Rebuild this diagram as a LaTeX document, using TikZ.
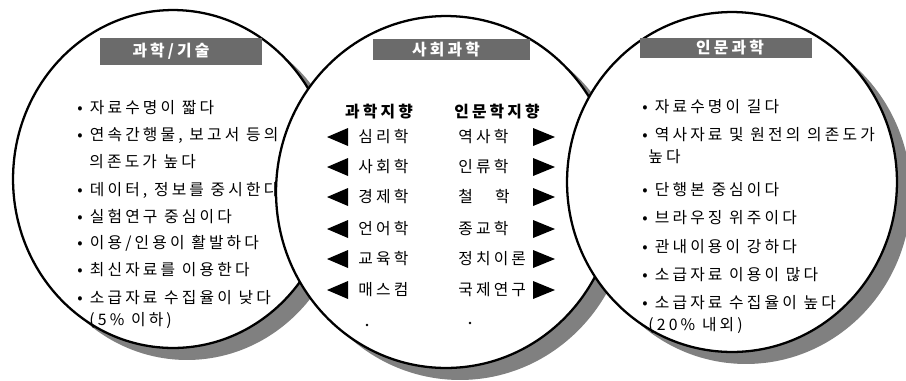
\documentclass[tikz,border=0pt]{standalone}
\usepackage{fontspec}
\setmainfont{Noto Sans CJK KR}[LetterSpace=20]
\tikzset{
    disc/.style={draw=black, fill=white, line width=1.3pt},
    drop/.style={fill=black!50},
    headbox/.style={fill=black!58, inner sep=0pt},
    headtext/.style={text=white, inner sep=0pt, font=\fontsize{9}{11}\selectfont\bfseries},
    item/.style={anchor=west, inner sep=0pt, font=\fontsize{9}{11}\selectfont},
    colhead/.style={inner sep=0pt, font=\fontsize{9}{11}\selectfont\bfseries},
    marker/.style={fill=black},
    bolddot/.style={shape=circle, fill=black, inner sep=0pt, minimum size=1.5pt},
}
\newcommand{\bul}{\makebox[0.25cm][l]{•}}
\begin{document}
\begin{tikzpicture}[x=0.02cm, y=-0.02cm]
    \useasboundingbox (0,0) rectangle (906,380);
    % left circle
    \fill[drop] (187,191) ellipse [x radius=3.2cm, y radius=3.38cm];
    \draw[disc] (173,179) ellipse [x radius=3.2cm, y radius=3.38cm];
    \node[headbox, minimum width=3.24cm, minimum height=0.54cm] (lbox) at (181,51) {};
    \node[headtext] (ltitle) at (171,51) {과학/기술};
    \foreach \x/\y/\t [count=\n] in {77/108/{\bul 자료수명이 짧다}, 77/135/{\bul 연속간행물, 보고서 등의},
        89/162/{의존도가 높다}, 77/190/{\bul 데이터, 정보를 중시한다}, 77/217/{\bul 실험연구 중심이다},
        77/243/{\bul 이용/인용이 활발하다}, 77/270/{\bul 최신자료를 이용한다},
        77/298/{\bul 소급자료 수집율이 낮다}, 89/320/{(5\% 이하)}}
        \node[item] (l\n) at (\x,\y) {\t};
    % middle circle
    \fill[drop] (460,204) ellipse [x radius=3.4cm, y radius=3.52cm];
    \draw[disc] (446,192) ellipse [x radius=3.4cm, y radius=3.52cm];
    \node[headbox, minimum width=3.14cm, minimum height=0.42cm] (mbox) at (451.5,49.5) {};
    \node[headtext] (mtitle) at (446,49.5) {사회과학};
    \node[colhead] (sci) at (379,112) {과학지향};
    \node[colhead] (hum) at (497,112) {인문학지향};
    \foreach \y/\a/\b [count=\n] in {137/심리학/역사학, 167/사회학/인류학, 197/경제학/철　학,
        229/언어학/종교학, 259/교육학/정치이론, 290/매스컴/국제연구} {
        \fill[marker] (327,\y) -- (348,\y-9) -- (348,\y+9) -- cycle;
        \node[item] (sci\n) at (358,\y) {\a};
        \node[item] (hum\n) at (458,\y) {\b};
        \fill[marker] (555,\y) -- (533,\y-9) -- (533,\y+9) -- cycle;
    }
    \node[bolddot] (ldot) at (367,325) {};
    \node[bolddot] (rdot) at (470,323) {};
    % right circle
    \fill[drop] (746,194) ellipse [x radius=3.3cm, y radius=3.4cm];
    \draw[disc] (732,182) ellipse [x radius=3.3cm, y radius=3.4cm];
    \node[headbox, minimum width=3.44cm, minimum height=0.40cm] (rbox) at (726,48) {};
    \node[headtext] (rtitle) at (730,48) {인문과학};
    \foreach \x/\y/\t [count=\n] in {642/107/{\bul 자료수명이 길다}, 642/135/{\bul 역사자료 및 원전의 의존도가},
        648/157/{높다}, 642/190/{\bul 단행본 중심이다}, 642/218/{\bul 브라우징 위주이다},
        642/247/{\bul 관내이용이 강하다}, 642/275/{\bul 소급자료 이용이 많다},
        642/303/{\bul 소급자료 수집율이 높다}, 648/325/{(20\% 내외)}}
        \node[item] (r\n) at (\x,\y) {\t};
\end{tikzpicture}
\end{document}
